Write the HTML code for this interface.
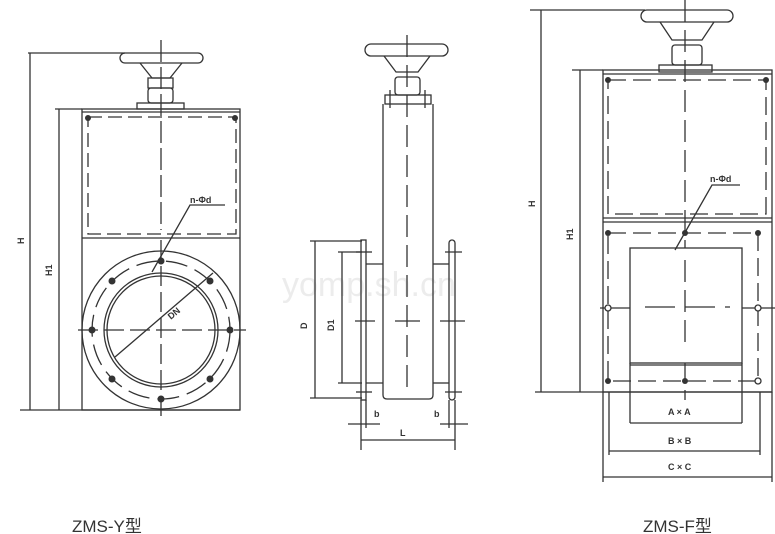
<!DOCTYPE html>
<html><head><meta charset="utf-8"><style>
html,body{margin:0;padding:0;background:#fff;width:775px;height:534px;overflow:hidden}
svg{display:block}
text{font-family:"Liberation Sans","Noto Sans CJK SC",sans-serif;fill:#333}
</style></head><body>
<svg width="775" height="534" viewBox="0 0 775 534" xmlns="http://www.w3.org/2000/svg">
<text x="282" y="296" font-size="34" style="fill:#ececec">yomp.sh.cn</text>
<g stroke="#333" stroke-width="1.3" fill="none">
<!-- ===== LEFT VIEW ===== -->
<line x1="28" y1="53" x2="125" y2="53"/>
<line x1="30" y1="53" x2="30" y2="410"/>
<line x1="55" y1="109" x2="82" y2="109"/>
<line x1="59" y1="109" x2="59" y2="410"/>
<line x1="20" y1="410" x2="240" y2="410"/>
<rect x="120" y="53" width="83" height="10" rx="5"/>
<path d="M140 63 L152 78 L170 78 L182 63"/>
<path d="M148 78 h25 v10 h-25z"/>
<rect x="148" y="88" width="25" height="15" rx="3"/>
<rect x="137" y="103" width="47" height="6"/>
<rect x="82" y="109" width="158" height="301"/>
<line x1="82" y1="112" x2="240" y2="112"/>
<line x1="82" y1="238" x2="240" y2="238"/>
<g stroke-dasharray="14,6"><rect x="88" y="117" width="148" height="117"/></g>
<line x1="161" y1="40" x2="161" y2="230" stroke-dasharray="22,5"/>
<circle cx="161" cy="330" r="79"/>
<circle cx="161" cy="330" r="57"/>
<circle cx="161" cy="330" r="54"/>
<circle cx="161" cy="330" r="69" stroke-dasharray="22,8"/>
<line x1="78" y1="330" x2="246" y2="330" stroke-dasharray="20,6"/>
<line x1="161" y1="240" x2="161" y2="418" stroke-dasharray="20,6"/>
<line x1="115" y1="357" x2="213" y2="273"/>
<polyline points="152,272 190,205 225,205"/>
<!-- ===== MIDDLE VIEW ===== -->
<rect x="365" y="44" width="83" height="12" rx="6"/>
<path d="M384 56 L396 72 L418 72 L430 56"/>
<rect x="395" y="77" width="25" height="18" rx="3"/>
<rect x="385" y="95" width="46" height="9"/>
<line x1="390" y1="90" x2="390" y2="108"/><line x1="425" y1="90" x2="425" y2="108"/>
<path d="M383 104 V395 q0 4 4 4 H429 q4 0 4 -4 V104"/>
<line x1="407" y1="35" x2="407" y2="395" stroke-dasharray="22,8"/>
<rect x="361" y="240" width="5" height="160"/>
<rect x="449" y="240" width="6" height="160" rx="3"/>
<line x1="366" y1="264" x2="383" y2="264"/><line x1="366" y1="383" x2="383" y2="383"/>
<line x1="433" y1="264" x2="449" y2="264"/><line x1="433" y1="383" x2="449" y2="383"/>
<line x1="355" y1="321" x2="375" y2="321"/><line x1="395" y1="321" x2="420" y2="321"/><line x1="440" y1="321" x2="465" y2="321"/>
<line x1="356" y1="252" x2="372" y2="252"/><line x1="445" y1="252" x2="462" y2="252"/>
<line x1="356" y1="392" x2="372" y2="392"/><line x1="445" y1="392" x2="462" y2="392"/>
<line x1="310" y1="241" x2="362" y2="241"/>
<line x1="315" y1="241" x2="315" y2="398"/>
<line x1="310" y1="398" x2="362" y2="398"/>
<line x1="338" y1="252" x2="362" y2="252"/>
<line x1="342" y1="252" x2="342" y2="383"/>
<line x1="338" y1="383" x2="362" y2="383"/>
<line x1="361" y1="400" x2="361" y2="450"/><line x1="366" y1="400" x2="366" y2="428"/>
<line x1="449" y1="400" x2="449" y2="428"/><line x1="455" y1="400" x2="455" y2="450"/>
<line x1="348" y1="424" x2="380" y2="424"/><line x1="440" y1="424" x2="468" y2="424"/>
<line x1="361" y1="440" x2="455" y2="440"/>
<!-- ===== RIGHT VIEW ===== -->
<line x1="530" y1="10" x2="645" y2="10"/>
<line x1="541" y1="10" x2="541" y2="392"/>
<line x1="572" y1="70" x2="603" y2="70"/>
<line x1="580" y1="70" x2="580" y2="392"/>
<line x1="535" y1="392" x2="772" y2="392"/>
<rect x="641" y="10" width="92" height="12" rx="6"/>
<path d="M660 22 L672 40 L702 40 L714 22"/>
<rect x="672" y="45" width="30" height="20" rx="3"/>
<rect x="659" y="65" width="53" height="7"/>
<rect x="603" y="70" width="169" height="322"/>
<line x1="603" y1="74" x2="772" y2="74"/>
<line x1="603" y1="218" x2="772" y2="218"/>
<line x1="603" y1="222" x2="772" y2="222"/>
<g stroke-dasharray="18,7"><rect x="608" y="80" width="158" height="134"/><rect x="608" y="233" width="150" height="148"/></g>
<line x1="685" y1="0" x2="685" y2="400" stroke-dasharray="22,8"/>
<rect x="630" y="248" width="112" height="115" fill="#fff"/>
<line x1="685" y1="260" x2="685" y2="350" stroke-dasharray="22,8"/>
<line x1="645" y1="307" x2="730" y2="307" stroke-dasharray="30,10"/>
<line x1="600" y1="308" x2="630" y2="308"/><line x1="742" y1="308" x2="775" y2="308"/>
<line x1="630" y1="365" x2="742" y2="365"/>
<line x1="630" y1="363" x2="630" y2="423"/><line x1="742" y1="363" x2="742" y2="423"/>
<line x1="630" y1="423" x2="742" y2="423"/>
<line x1="609" y1="392" x2="609" y2="455"/><line x1="760" y1="392" x2="760" y2="455"/>
<line x1="609" y1="451" x2="760" y2="451"/>
<line x1="603" y1="392" x2="603" y2="482"/><line x1="772" y1="392" x2="772" y2="482"/>
<line x1="603" y1="477" x2="772" y2="477"/>
<polyline points="675,250 712,185 740,185"/>
</g>
<g fill="#333">
<circle cx="88" cy="118" r="3"/><circle cx="235" cy="118" r="3"/>
<circle cx="161" cy="261" r="3.5"/><circle cx="161" cy="399" r="3.5"/>
<circle cx="92" cy="330" r="3.5"/><circle cx="230" cy="330" r="3.5"/>
<circle cx="112" cy="281" r="3.5"/><circle cx="210" cy="281" r="3.5"/>
<circle cx="112" cy="379" r="3.5"/><circle cx="210" cy="379" r="3.5"/>
<circle cx="608" cy="80" r="3"/><circle cx="766" cy="80" r="3"/>
<circle cx="608" cy="233" r="3"/><circle cx="685" cy="233" r="3"/><circle cx="758" cy="233" r="3"/>
<circle cx="608" cy="381" r="3"/><circle cx="685" cy="381" r="3"/>
</g>
<g fill="#fff" stroke="#333" stroke-width="1.3">
<circle cx="608" cy="308" r="3"/><circle cx="758" cy="308" r="3"/>
<circle cx="758" cy="381" r="3"/>
</g>
<g font-size="9" font-weight="bold">
<text x="190" y="203">n-Φd</text>
<text x="710" y="182">n-Φd</text>
<text x="168" y="318" transform="rotate(-40 172 315)">DN</text>
<text x="374" y="417">b</text><text x="434" y="417">b</text>
<text x="400" y="436">L</text>
<text x="668" y="415">A × A</text>
<text x="668" y="444">B × B</text>
<text x="668" y="470">C × C</text>
<text transform="translate(24,244) rotate(-90)">H</text>
<text transform="translate(52,276) rotate(-90)">H1</text>
<text transform="translate(307,329) rotate(-90)">D</text>
<text transform="translate(334,331) rotate(-90)">D1</text>
<text transform="translate(535,207) rotate(-90)">H</text>
<text transform="translate(573,240) rotate(-90)">H1</text>
</g>
<text x="72" y="532" font-size="17">ZMS-Y型</text>
<text x="643" y="532" font-size="17">ZMS-F型</text>
</svg>
</body></html>
